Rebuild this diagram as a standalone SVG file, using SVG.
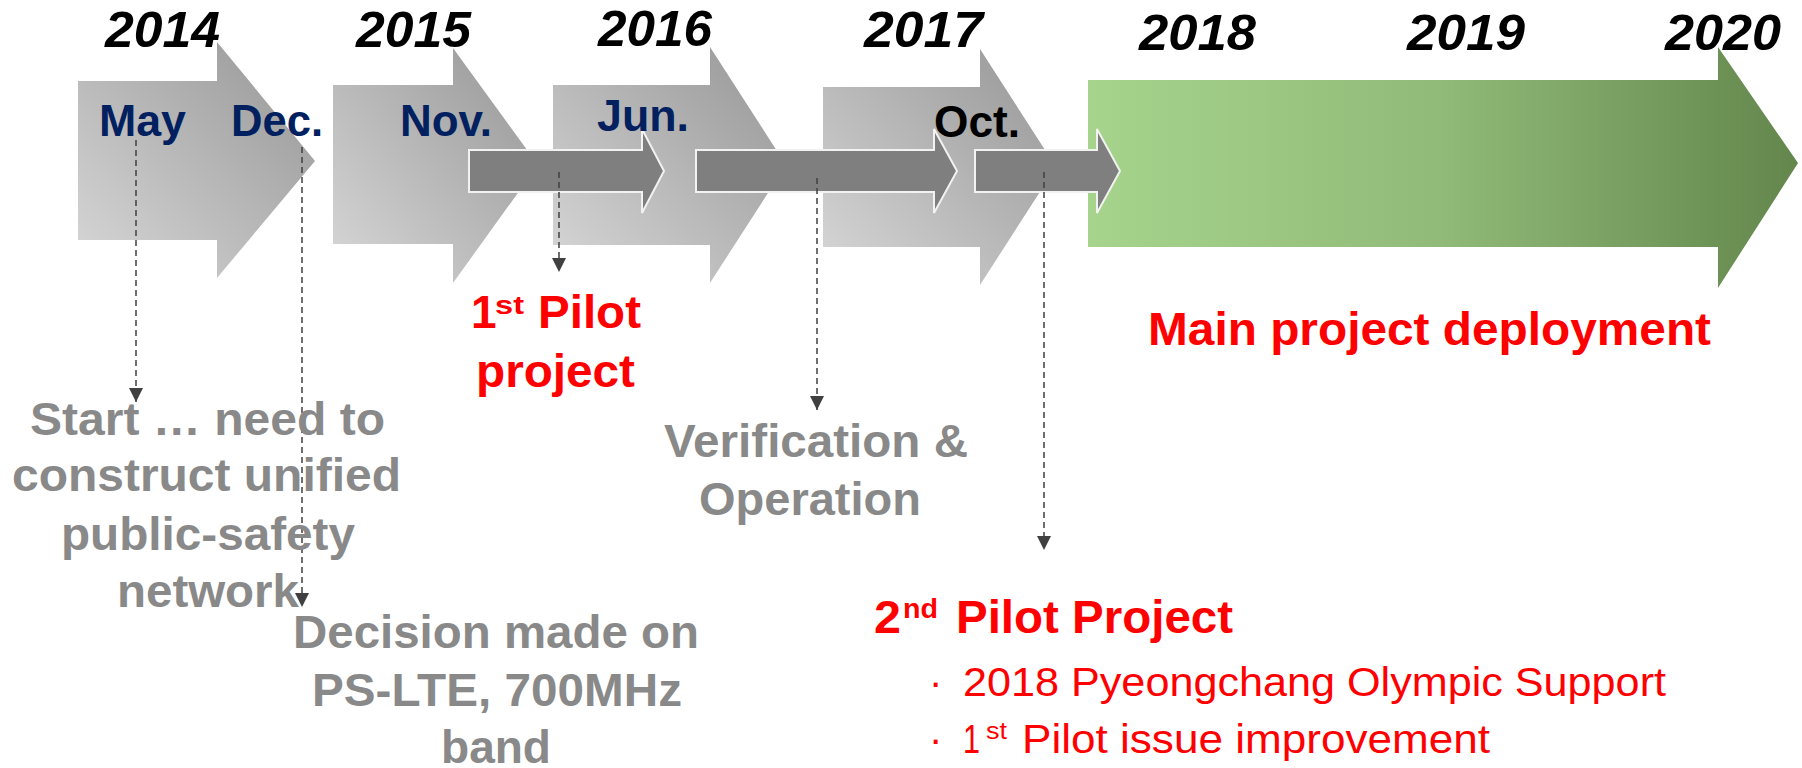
<svg xmlns="http://www.w3.org/2000/svg" width="1802" height="768" viewBox="0 0 1802 768">
<defs>
<linearGradient id="gGrey" x1="0" y1="1" x2="1" y2="0">
<stop offset="0" stop-color="#d8d8d8"/>
<stop offset="1" stop-color="#959595"/>
</linearGradient>
<linearGradient id="gGreen" x1="0" y1="0" x2="1" y2="0">
<stop offset="0" stop-color="#a6d48c"/>
<stop offset="0.5" stop-color="#90ba78"/>
<stop offset="1" stop-color="#63864c"/>
</linearGradient>
<marker id="ah" viewBox="0 0 10 10" refX="10" refY="5" markerWidth="14" markerHeight="14" markerUnits="userSpaceOnUse" orient="auto">
<path d="M0,0 L10,5 L0,10 Z" fill="#404040"/>
</marker>
</defs>
<style>
.grey{fill:url(#gGrey)}
.bar{fill:#7f7f7f;stroke:#f2f2f2;stroke-width:2}
.yr{font-family:"Liberation Sans",Arial,sans-serif;font-weight:bold;font-style:italic;font-size:50px;fill:#000}
.mo{font-family:"Liberation Sans",Arial,sans-serif;font-weight:bold;font-size:45px;fill:#002060}
.gt{font-family:"Liberation Sans",Arial,sans-serif;font-weight:bold;font-size:46px;fill:#898989}
.rt{font-family:"Liberation Sans",Arial,sans-serif;font-weight:bold;font-size:46px;fill:#ff0000}
.rn{font-family:"Liberation Sans",Arial,sans-serif;font-size:40px;fill:#ff0000}
.dash{stroke:#404040;stroke-width:1.5;stroke-dasharray:6 4;fill:none}
</style>

<g id="arrow2014">
<path class="grey" d="M78,81 H217 V42 L315,161 L217,278 V240 H78 Z"/>
</g>
<g id="arrow2015">
<path class="grey" d="M333,85 H453 V48 L538,165 L453,283 V244 H333 Z"/>
</g>
<g id="arrow2016">
<path class="grey" d="M553,85 H710 V47 L786,165 L710,283 V245 H553 Z"/>
</g>
<g id="arrow2017">
<path class="grey" d="M823,87 H980 V49 L1056,167 L980,285 V247 H823 Z"/>
</g>
<g id="arrowMain">
<path fill="url(#gGreen)" d="M1088,80 H1718 V47 L1798,163 L1718,288 V247 H1088 Z"/>
</g>
<g id="bar1">
<path class="bar" d="M469,150 H642 V129 L664,171 L642,213 V192 H469 Z"/>
</g>
<g id="bar2">
<path class="bar" d="M696,150 H934 V129 L957,171 L934,213 V192 H696 Z"/>
</g>
<g id="bar3">
<path class="bar" d="M975,150 H1097 V129 L1120,171 L1097,213 V192 H975 Z"/>
</g>

<g id="years">
<text class="yr" x="105" y="47" textLength="115" lengthAdjust="spacingAndGlyphs">2014</text>
<text class="yr" x="356" y="47" textLength="115" lengthAdjust="spacingAndGlyphs">2015</text>
<text class="yr" x="598" y="46" textLength="114" lengthAdjust="spacingAndGlyphs">2016</text>
<text class="yr" x="864" y="47" textLength="119" lengthAdjust="spacingAndGlyphs">2017</text>
<text class="yr" x="1139" y="50" textLength="117" lengthAdjust="spacingAndGlyphs">2018</text>
<text class="yr" x="1407" y="50" textLength="118" lengthAdjust="spacingAndGlyphs">2019</text>
<text class="yr" x="1665" y="50" textLength="116" lengthAdjust="spacingAndGlyphs">2020</text>
</g>

<g id="months">
<text class="mo" x="99" y="136" textLength="87" lengthAdjust="spacingAndGlyphs">May</text>
<text class="mo" x="231" y="136" textLength="92" lengthAdjust="spacingAndGlyphs">Dec.</text>
<text class="mo" x="400" y="136" textLength="92" lengthAdjust="spacingAndGlyphs">Nov.</text>
<text class="mo" x="597" y="131" textLength="92" lengthAdjust="spacingAndGlyphs">Jun.</text>
<text class="mo" x="934" y="137" textLength="86" lengthAdjust="spacingAndGlyphs" style="fill:#000">Oct.</text>
</g>

<g id="connectors">
<line class="dash" x1="136" y1="140" x2="136" y2="402" marker-end="url(#ah)"/>
<line class="dash" x1="302" y1="147" x2="302" y2="607" marker-end="url(#ah)"/>
<line class="dash" x1="559" y1="172" x2="559" y2="272" marker-end="url(#ah)"/>
<line class="dash" x1="817" y1="178" x2="817" y2="410" marker-end="url(#ah)"/>
<line class="dash" x1="1044" y1="172" x2="1044" y2="550" marker-end="url(#ah)"/>
</g>

<g id="note-start">
<text class="gt" x="30" y="435" textLength="355" lengthAdjust="spacingAndGlyphs">Start … need to</text>
<text class="gt" x="12" y="491" textLength="389" lengthAdjust="spacingAndGlyphs">construct unified</text>
<text class="gt" x="61" y="550" textLength="294" lengthAdjust="spacingAndGlyphs">public-safety</text>
<text class="gt" x="117" y="607" textLength="182" lengthAdjust="spacingAndGlyphs">network</text>
</g>
<g id="note-decision">
<text class="gt" x="293" y="648" textLength="406" lengthAdjust="spacingAndGlyphs">Decision made on</text>
<text class="gt" x="312" y="706" textLength="370" lengthAdjust="spacingAndGlyphs">PS-LTE, 700MHz</text>
<text class="gt" x="441" y="763" textLength="110" lengthAdjust="spacingAndGlyphs">band</text>
</g>
<g id="note-pilot1">
<text class="rt" x="471" y="328">1</text>
<text class="rt" x="495" y="314" style="font-size:26px" textLength="29" lengthAdjust="spacingAndGlyphs">st</text>
<text class="rt" x="538" y="328" textLength="103" lengthAdjust="spacingAndGlyphs">Pilot</text>
<text class="rt" x="476" y="387" textLength="159" lengthAdjust="spacingAndGlyphs">project</text>
</g>
<g id="note-verification">
<text class="gt" x="664" y="457" textLength="304" lengthAdjust="spacingAndGlyphs">Verification &amp;</text>
<text class="gt" x="699" y="515" textLength="222" lengthAdjust="spacingAndGlyphs">Operation</text>
</g>
<g id="note-main">
<text class="rt" x="1148" y="345" textLength="563" lengthAdjust="spacingAndGlyphs">Main project deployment</text>
</g>
<g id="note-pilot2">
<text class="rt" x="874" y="633" textLength="27" lengthAdjust="spacingAndGlyphs">2</text>
<text class="rt" x="903" y="618" style="font-size:27px" textLength="35" lengthAdjust="spacingAndGlyphs">nd</text>
<text class="rt" x="956" y="633" textLength="277" lengthAdjust="spacingAndGlyphs">Pilot Project</text>
<text class="rn" x="929" y="696">·</text>
<text class="rn" x="963" y="696" textLength="703" lengthAdjust="spacingAndGlyphs">2018 Pyeongchang Olympic Support</text>
<text class="rn" x="929" y="753">·</text>
<text class="rn" x="963" y="753" textLength="17" lengthAdjust="spacingAndGlyphs">1</text>
<text class="rn" x="986" y="739" style="font-size:24px" textLength="21" lengthAdjust="spacingAndGlyphs">st</text>
<text class="rn" x="1022" y="753" textLength="468" lengthAdjust="spacingAndGlyphs">Pilot issue improvement</text>
</g>
</svg>
